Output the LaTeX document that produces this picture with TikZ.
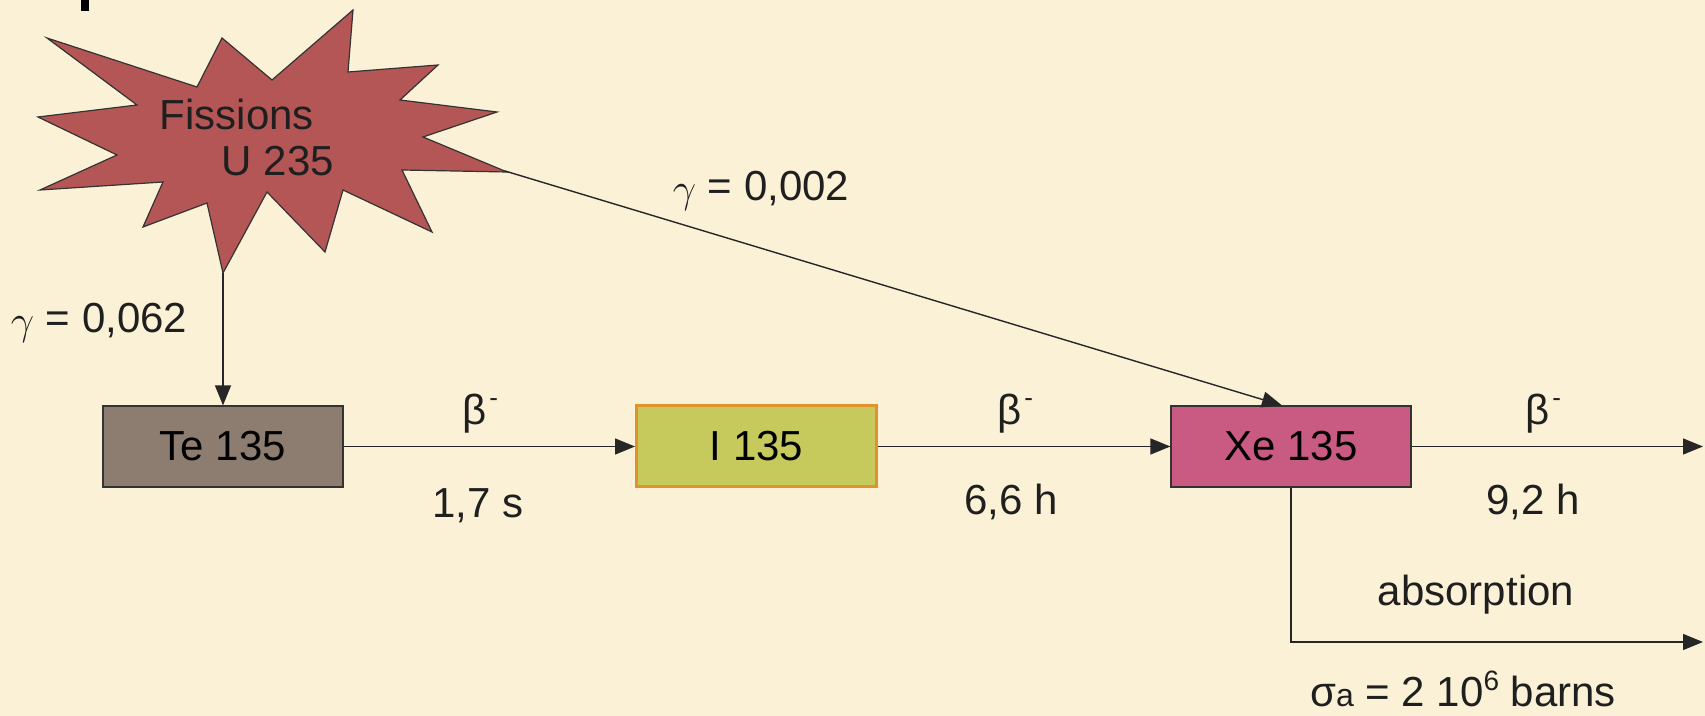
\documentclass[tikz,border=0pt]{standalone}
\usepackage{fontspec}
\setmainfont{Liberation Sans}
\usetikzlibrary{arrows.meta}
\definecolor{bg}{RGB}{251,241,214}
\definecolor{starcol}{RGB}{181,86,86}
\definecolor{tecol}{RGB}{140,125,112}
\definecolor{icol}{RGB}{198,201,92}
\definecolor{iedge}{RGB}{226,146,44}
\definecolor{xecol}{RGB}{201,91,131}
\tikzset{
  box/.style={draw=black!80, line width=0.6pt, minimum width=120pt, minimum height=40.5pt, inner sep=0pt},
  arr/.style={draw=black!85, line width=0.7pt, -{Triangle[length=10pt,width=8pt]}},
  lbl/.style={inner sep=0pt, text=black!88}
}
\newcommand{\bminus}{β\kern1.5pt\raisebox{9pt}{\fontsize{13}{15}\selectfont -}}
\newcommand{\gam}{\raisebox{-1pt}{$\gamma$}}
\begin{document}
\begin{tikzpicture}[x=0.5pt,y=-0.5pt, every node/.style={font=\fontsize{21}{25}\selectfont}]
\fill[bg] (0,0) rectangle (1705,716);
\useasboundingbox (0,0) rectangle (1705,716);
\fill[black] (81,0) rectangle (89,11);
% star
\filldraw[fill=starcol, draw=black!80, line width=0.6pt]
 (47,38) -- (197,87) -- (222,38) -- (272,80) -- (353,10) -- (348,72) -- (438,65) -- (400,100)
 -- (497,112) -- (423,137) -- (507,172) -- (402,170) -- (432,232) -- (343,190) -- (325,252)
 -- (267,192) -- (223,273) -- (207,203) -- (143,227) -- (163,182) -- (40,190) -- (117,155)
 -- (38,117) -- (137,105) -- cycle;
\coordinate (startip) at (505,171);
\coordinate (starbot) at (223,273);
\node[lbl] (fis) at (237,114) {Fissions};
\node[lbl] (u) at (278,161) {U 235};
% boxes
\node[box, fill=tecol] (te) at (223,446.5) {Te 135};
\node[box, fill=icol, draw=iedge, line width=1.5pt] (i) at (756.5,446.5) {I 135};
\node[box, fill=xecol] (xe) at (1291,446.5) {Xe 135};
\coordinate (endA) at (1703,446.5);
\coordinate (endB) at (1703,642);
% connectors
\draw[arr] (starbot) -- (te.north);
\draw[arr] (startip) -- ([xshift=-4.5pt]xe.north);
\draw[arr] (te) -- (i);
\draw[arr] (i) -- (xe);
\draw[arr] (xe) -- (endA);
\draw[arr] (xe.south) |- (endB);
% labels
\node[lbl] (g1) at (99,323) {\gam\ = 0,062};
\node[lbl] (g2) at (761,191) {\gam\ = 0,002};
\node[lbl] (b1) at (480,414) {\bminus};
\node[lbl] (b2) at (1015,414) {\bminus};
\node[lbl] (b3) at (1543,414) {\bminus};
\node[lbl] (t1) at (478,506) {1,7 s};
\node[lbl] (t2) at (1011,502) {6,6 h};
\node[lbl] (t3) at (1533,502) {9,2 h};
\node[lbl] (ab) at (1476,595) {absorption};
\node[lbl] (sg) at (1463,689) {σ{\fontsize{16}{18}\selectfont a} = 2 10\raisebox{8pt}{\fontsize{14}{16}\selectfont 6} barns};
\end{tikzpicture}
\end{document}
